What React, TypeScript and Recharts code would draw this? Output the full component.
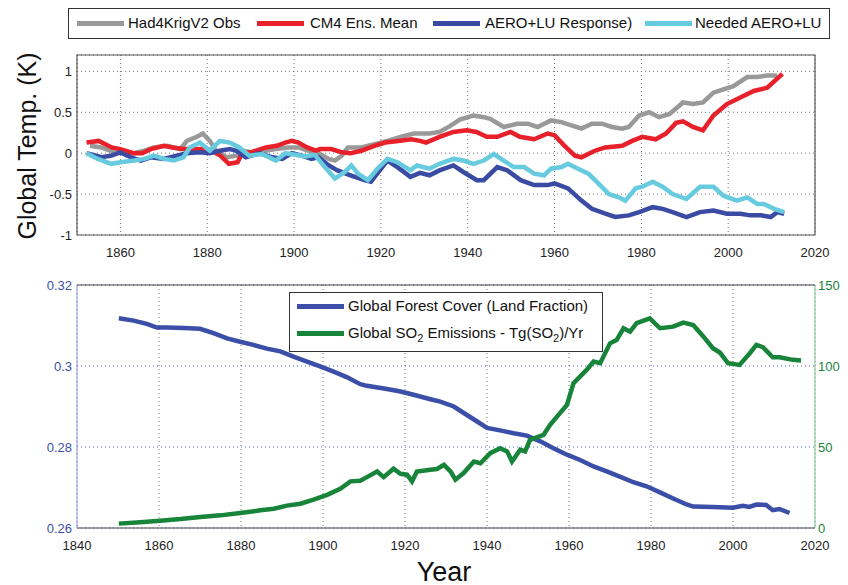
import React from 'react';
import {
    LineChart,
    Line,
    XAxis,
    YAxis,
    CartesianGrid,
    Legend,
    ReferenceArea,
    ReferenceLine
} from 'recharts';

// top panel: global temperature anomalies (K)
const tempTicksX = [1860, 1880, 1900, 1920, 1940, 1960, 1980, 2000, 2020];
const tempTicksY = [-1, -0.5, 0, 0.5, 1];

const hadObs: [number, number][] = [
    [1853, 0.09], [1855.6, 0.07], [1858.6, 0.01], [1861, 0], [1863, 0], [1865.5, 0.03], [1867.7, 0.07],
    [1870.8, 0.09], [1873.8, 0.05], [1875.3, 0.15], [1877.6, 0.2], [1879, 0.24], [1880.6, 0.15], [1882, 0.03],
    [1884.4, -0.05], [1886.7, -0.03], [1888, 0.03], [1890.5, 0.01], [1893.5, 0.03], [1895.8, 0.05],
    [1898.8, 0.07], [1901, 0.07], [1903.3, 0.03], [1905.6, 0], [1908, -0.07], [1909.4, -0.09], [1911, -0.03],
    [1912.4, 0.07], [1915.5, 0.07], [1918.5, 0.11], [1921.5, 0.15], [1924.5, 0.2], [1927.6, 0.24],
    [1931.2, 0.24], [1933.5, 0.26], [1935.9, 0.33], [1938.2, 0.41], [1941.3, 0.46], [1943.7, 0.44],
    [1945.2, 0.42], [1948.3, 0.32], [1951.4, 0.36], [1953.8, 0.36], [1956.1, 0.32], [1959.2, 0.4],
    [1961.6, 0.38], [1963.9, 0.34], [1966.2, 0.3], [1968.6, 0.36], [1970.9, 0.36], [1973.2, 0.32],
    [1975.6, 0.3], [1977.1, 0.32], [1979.5, 0.46], [1981.8, 0.5], [1984.1, 0.44], [1986.5, 0.48],
    [1989.6, 0.62], [1991.9, 0.6], [1994.2, 0.62], [1996.6, 0.74], [1998.9, 0.78], [2001.2, 0.82],
    [2004.4, 0.93], [2006.7, 0.93], [2009, 0.95], [2011.3, 0.95]
];

const cm4Mean: [number, number][] = [
    [1852.2, 0.13], [1855, 0.15], [1858, 0.07], [1860, 0.05], [1863, 0], [1865, 0], [1867, 0.05], [1870, 0.09],
    [1872, 0.07], [1874.5, 0.05], [1877, 0.05], [1880, 0.05], [1881, 0.03], [1883, -0.03], [1885, -0.13],
    [1887, -0.11], [1888, 0], [1890, 0.01], [1893.5, 0.07], [1896, 0.09], [1898, 0.13], [1899.5, 0.15],
    [1901, 0.13], [1903, 0.07], [1905, 0.03], [1906, 0.05], [1908.6, 0.05], [1911, 0.01], [1913, 0],
    [1915.5, 0.03], [1918.5, 0.09], [1921, 0.13], [1924, 0.15], [1927, 0.17], [1929, 0.15], [1930.4, 0.13],
    [1933.5, 0.2], [1936.7, 0.26], [1939.8, 0.28], [1942, 0.26], [1944.4, 0.2], [1946.8, 0.2], [1949.9, 0.26],
    [1952, 0.2], [1955.3, 0.17], [1958.4, 0.24], [1960, 0.22], [1962.3, 0.09], [1964.7, -0.03], [1966.2, -0.05],
    [1969.3, 0.03], [1971.7, 0.07], [1975.6, 0.09], [1977.9, 0.15], [1980.2, 0.2], [1983.3, 0.17],
    [1985.7, 0.24], [1988, 0.37], [1989.6, 0.39], [1991.9, 0.32], [1994.2, 0.28], [1996.6, 0.46],
    [1999.7, 0.6], [2002.8, 0.68], [2005.9, 0.76], [2009, 0.8], [2012.5, 0.97]
];

const aeroLu: [number, number][] = [
    [1852.2, 0], [1855.6, -0.05], [1857.9, -0.03], [1860, 0.01], [1862.4, -0.05], [1864.7, -0.09], [1867, -0.05],
    [1870, -0.07], [1873, -0.03], [1875.3, 0], [1878.3, 0.01], [1880.6, 0], [1882.9, 0.03], [1885.2, 0.05],
    [1886.7, 0.03], [1888.9, -0.05], [1892, 0], [1895, -0.05], [1897.3, -0.07], [1899.5, 0], [1901.8, -0.03],
    [1904, -0.07], [1905.6, -0.05], [1908, -0.15], [1910, -0.21], [1913, -0.27], [1916.2, -0.33],
    [1917.7, -0.35], [1921.5, -0.09], [1923.8, -0.17], [1926.8, -0.29], [1929, -0.24], [1931.2, -0.27],
    [1933.5, -0.21], [1936.7, -0.15], [1939, -0.23], [1942.1, -0.33], [1943.7, -0.33], [1946.8, -0.17],
    [1949.1, -0.21], [1952.2, -0.33], [1955.3, -0.39], [1958.4, -0.39], [1960, -0.37], [1963.1, -0.43],
    [1966.2, -0.58], [1968.6, -0.68], [1971.7, -0.74], [1974, -0.78], [1977.1, -0.76], [1979.5, -0.72],
    [1982.6, -0.66], [1984.9, -0.68], [1987.2, -0.72], [1990.4, -0.78], [1993.5, -0.72], [1996.6, -0.7],
    [1999.7, -0.74], [2002.8, -0.74], [2005.1, -0.76], [2007.5, -0.76], [2009.8, -0.78], [2011.3, -0.72],
    [2012.9, -0.74]
];

const neededAeroLu: [number, number][] = [
    [1852.2, 0], [1854.8, -0.07], [1857.9, -0.13], [1860, -0.11], [1863.2, -0.09], [1865.5, -0.07],
    [1867.7, -0.03], [1870, -0.07], [1872.3, -0.09], [1874.5, -0.05], [1876, 0.07], [1878.3, 0.13],
    [1880.6, 0.03], [1882.9, 0.15], [1885.2, 0.13], [1887.4, 0.07], [1889.7, -0.03], [1892.7, -0.01],
    [1895.8, -0.09], [1898, 0], [1900.3, -0.02], [1902.6, -0.04], [1904.8, -0.02], [1907.1, -0.17],
    [1909.4, -0.31], [1911.7, -0.23], [1913.2, -0.15], [1914.7, -0.25], [1917, -0.33], [1919.2, -0.19],
    [1921.5, -0.07], [1923.8, -0.11], [1926.8, -0.21], [1928.3, -0.15], [1931.2, -0.19], [1933.5, -0.13],
    [1936.7, -0.07], [1939, -0.09], [1941.3, -0.13], [1943.7, -0.09], [1946, -0.01], [1948.3, -0.09],
    [1950.6, -0.17], [1953, -0.17], [1955.3, -0.25], [1957.6, -0.27], [1959.2, -0.19], [1961.6, -0.17],
    [1963.1, -0.13], [1965.4, -0.19], [1967.8, -0.25], [1970.1, -0.37], [1972.5, -0.5], [1974.8, -0.54],
    [1976.3, -0.58], [1978.7, -0.43], [1980.2, -0.41], [1982.6, -0.35], [1984.9, -0.41], [1987.2, -0.5],
    [1990.4, -0.56], [1993.5, -0.41], [1996.6, -0.41], [1998.9, -0.52], [2002, -0.58], [2004.4, -0.54],
    [2006.7, -0.62], [2008.2, -0.62], [2010.6, -0.68], [2012.9, -0.72]
];

// bottom panel: forest cover (land fraction) and SO2 emissions (Tg/yr)
const yearTicks = [1840, 1860, 1880, 1900, 1920, 1940, 1960, 1980, 2000, 2020];
const forestTicks = [0.26, 0.28, 0.3, 0.32];
const so2Ticks = [0, 50, 100, 150];

const forestCover: [number, number][] = [
    [1850.2, 0.3118], [1853.8, 0.3112], [1857, 0.3104], [1859.5, 0.3095], [1862, 0.3095], [1866, 0.3094],
    [1870, 0.3092], [1873.3, 0.3081], [1876.6, 0.3068], [1879.8, 0.306], [1883, 0.3052], [1886.3, 0.3043],
    [1889.6, 0.3036], [1892.8, 0.3023], [1896.1, 0.3011], [1899.3, 0.2999], [1902.6, 0.2986],
    [1905.9, 0.2972], [1909.1, 0.2955], [1910.7, 0.2951], [1915.6, 0.2943], [1918.9, 0.2937],
    [1922.1, 0.2929], [1926.2, 0.2918], [1928.6, 0.2912], [1931.9, 0.29], [1935.1, 0.2879],
    [1937.6, 0.2863], [1940, 0.2847], [1943.2, 0.2841], [1946.5, 0.2834], [1949.7, 0.2828], [1953, 0.2814],
    [1956.2, 0.2797], [1959.5, 0.2781], [1962.7, 0.2768], [1966, 0.2752], [1969.2, 0.274], [1972.4, 0.2727],
    [1975.7, 0.2713], [1978.9, 0.2703], [1982.2, 0.2688], [1985.4, 0.2673], [1988.7, 0.2658],
    [1990.3, 0.2653], [1995.1, 0.2652], [2000, 0.265], [2002.4, 0.2655], [2004, 0.2652], [2005.7, 0.2658],
    [2008.1, 0.2657], [2009.7, 0.2644], [2011.3, 0.2647], [2013.8, 0.2637]
];

const so2Emissions: [number, number][] = [
    [1850.2, 2.7], [1855.4, 3.5], [1860.3, 4.5], [1865.2, 5.5], [1870.1, 6.8], [1875, 7.8], [1879.8, 9.2],
    [1884.7, 10.9], [1888, 11.9], [1891.2, 13.8], [1894.5, 15], [1897.7, 17.5], [1901, 20.5], [1904.2, 24.2],
    [1906.7, 28.8], [1909.1, 29.2], [1910.7, 31.4], [1913.2, 34.9], [1914.8, 31.4], [1917.2, 36.6],
    [1918.9, 33.5], [1920.5, 32.9], [1921.7, 28.8], [1922.9, 34.9], [1926.2, 36], [1927.8, 36.4],
    [1929.5, 39], [1931.1, 34.9], [1932.3, 29.8], [1934.3, 33.9], [1936.8, 41], [1938.4, 40], [1940.8, 46.2],
    [1943.2, 49.3], [1944.9, 47.3], [1946.1, 41], [1948.1, 48.3], [1949.3, 47.3], [1950.5, 54.4],
    [1953.8, 57.5], [1955.4, 63.7], [1957.8, 70.9], [1959.5, 76], [1961.1, 89.4], [1964.3, 97.6],
    [1966, 102.7], [1967.6, 101.7], [1970, 114], [1971.6, 116], [1973.3, 123.3], [1974.9, 121.2],
    [1976.5, 126.4], [1979.7, 129.4], [1982.2, 123.3], [1985.4, 124.3], [1987.9, 126.8], [1990.3, 125.3],
    [1992.8, 118.1], [1995.1, 111], [1996.8, 108.3], [1998.8, 101.7], [2001.6, 100.7], [2004.1, 107.9],
    [2005.7, 113], [2007.3, 111.6], [2009.7, 105.4], [2011.4, 105.4], [2014.6, 103.8], [2016.6, 103.4]
];

const toPoints = (pairs: [number, number][]) => pairs.map(([year, value]) => ({ year, value }));

const FONT = '"Liberation Sans", Arial, Helvetica, sans-serif';
const GREY = '#999999';
const RED = '#e8202a';
const NAVY = '#3a4ba4';
const CYAN = '#66cbde';
const GREEN = '#17843a';
const FOREST_BLUE = '#3b4fa8';

const topLegendItems = [
    { label: 'Had4KrigV2 Obs', color: GREY, left: 8, textLeft: 59 },
    { label: 'CM4 Ens. Mean', color: RED, left: 188, textLeft: 241 },
    { label: 'AERO+LU Response)', color: NAVY, left: 364, textLeft: 416 },
    { label: 'Needed AERO+LU', color: CYAN, left: 576, textLeft: 626 }
];

const TopLegend = () => (
    <div style={{ position: 'relative', width: 762, height: 31, border: '1px solid #333', background: '#fff', boxSizing: 'border-box', fontFamily: FONT, fontSize: 15 }}>
        {topLegendItems.map((it) => (
            <React.Fragment key={it.label}>
                <div style={{ position: 'absolute', left: it.left, top: 12, width: 47, height: 5, background: it.color }} />
                <div style={{ position: 'absolute', left: it.textLeft, top: 5, color: '#111', whiteSpace: 'nowrap' }}>{it.label}</div>
            </React.Fragment>
        ))}
    </div>
);

const BottomLegend = () => (
    <div style={{ position: 'relative', width: 314, height: 60, border: '1px solid #333', background: '#fff', boxSizing: 'border-box', fontFamily: FONT, fontSize: 15, color: '#111' }}>
        <div style={{ position: 'absolute', left: 7, top: 11, width: 47, height: 5, background: FOREST_BLUE }} />
        <div style={{ position: 'absolute', left: 58, top: 4, whiteSpace: 'nowrap' }}>Global Forest Cover (Land Fraction)</div>
        <div style={{ position: 'absolute', left: 7, top: 38, width: 47, height: 5, background: GREEN }} />
        <div style={{ position: 'absolute', left: 58, top: 31, whiteSpace: 'nowrap' }}>
            Global SO<sub style={{ fontSize: 11 }}>2</sub> Emissions - Tg(SO<sub style={{ fontSize: 11 }}>2</sub>)/Yr
        </div>
    </div>
);

const tickStyle = { fill: '#222', fontSize: 13, fontFamily: FONT };

export default function App() {
    return (
        <div style={{ position: 'absolute', left: 0, top: 0, width: 848, height: 585, background: '#fff', fontFamily: FONT }}>
            <div style={{ position: 'absolute', left: 0, top: 0 }}>
                <LineChart width={848} height={265} margin={{ top: 55, right: 33, bottom: 0, left: 0 }}>
                    <CartesianGrid stroke="#777" strokeDasharray="1 3" />
                    <ReferenceArea x1={1850} x2={2020} y1={-1} y2={1.2} fill="none" stroke="#555" strokeWidth={1.2} />
                    <XAxis
                        type="number"
                        dataKey="year"
                        domain={[1850, 2020]}
                        ticks={tempTicksX}
                        allowDataOverflow
                        height={30}
                        axisLine={false}
                        tickLine={false}
                        tickMargin={7}
                        tick={tickStyle}
                    />
                    <YAxis
                        type="number"
                        domain={[-1, 1.2]}
                        ticks={tempTicksY}
                        allowDataOverflow
                        width={77}
                        axisLine={false}
                        tickLine={false}
                        tickSize={3}
                        tickMargin={2}
                        tick={tickStyle}
                    />
                    <Legend
                        layout="horizontal"
                        verticalAlign="middle"
                        align="center"
                        wrapperStyle={{ left: 68, top: 8, width: 762, height: 31 }}
                        content={() => <TopLegend />}
                    />
                    <Line data={toPoints(hadObs)} dataKey="value" name="Had4KrigV2 Obs" stroke={GREY} strokeWidth={4.5} dot={false} isAnimationActive={false} />
                    <Line data={toPoints(cm4Mean)} dataKey="value" name="CM4 Ens. Mean" stroke={RED} strokeWidth={4.5} dot={false} isAnimationActive={false} />
                    <Line data={toPoints(aeroLu)} dataKey="value" name="AERO+LU Response)" stroke={NAVY} strokeWidth={4.5} dot={false} isAnimationActive={false} />
                    <Line data={toPoints(neededAeroLu)} dataKey="value" name="Needed AERO+LU" stroke={CYAN} strokeWidth={4.5} dot={false} isAnimationActive={false} />
                </LineChart>
            </div>
            <div style={{ position: 'absolute', left: 27, top: 146, transform: 'translate(-50%, -50%) rotate(-90deg)', fontSize: 25, color: '#111', whiteSpace: 'nowrap' }}>
                Global Temp. (K)
            </div>

            <div style={{ position: 'absolute', left: 0, top: 260 }}>
                <LineChart width={848} height={325} margin={{ top: 25, right: 0, bottom: 0, left: 0 }}>
                    <CartesianGrid stroke="#777" strokeDasharray="1 3" horizontal={false} />
                    <CartesianGrid stroke="#5561d6" strokeDasharray="1 3" vertical={false} yAxisId="forest" />
                    <XAxis
                        type="number"
                        dataKey="year"
                        domain={[1840, 2020]}
                        ticks={yearTicks}
                        allowDataOverflow
                        height={57}
                        stroke="#444"
                        tickLine={false}
                        tickMargin={7}
                        tick={tickStyle}
                    />
                    <YAxis
                        yAxisId="forest"
                        type="number"
                        domain={[0.26, 0.32]}
                        ticks={forestTicks}
                        allowDataOverflow
                        width={77}
                        stroke="#8c93d8"
                        tickLine={false}
                        tickSize={3}
                        tickMargin={2}
                        tick={{ ...tickStyle, fill: FOREST_BLUE }}
                        tickFormatter={(v: number) => String(Number(v.toFixed(2)))}
                    />
                    <YAxis
                        yAxisId="so2"
                        orientation="right"
                        type="number"
                        domain={[0, 150]}
                        ticks={so2Ticks}
                        allowDataOverflow
                        width={33}
                        stroke="#7cc08a"
                        tickLine={false}
                        tickSize={2}
                        tickMargin={1}
                        tick={{ ...tickStyle, fill: GREEN, textAnchor: 'start' }}
                    />
                    <ReferenceLine yAxisId="forest" y={0.32} stroke="#444" />
                    <Legend
                        layout="horizontal"
                        verticalAlign="middle"
                        align="center"
                        wrapperStyle={{ left: 289, top: 32, width: 314, height: 60 }}
                        content={() => <BottomLegend />}
                    />
                    <Line yAxisId="forest" data={toPoints(forestCover)} dataKey="value" name="Global Forest Cover (Land Fraction)" stroke={FOREST_BLUE} strokeWidth={4.5} dot={false} isAnimationActive={false} />
                    <Line yAxisId="so2" data={toPoints(so2Emissions)} dataKey="value" name="Global SO2 Emissions" stroke={GREEN} strokeWidth={4.5} dot={false} isAnimationActive={false} />
                </LineChart>
            </div>
            <div style={{ position: 'absolute', left: 444, top: 572, transform: 'translate(-50%, -50%)', fontSize: 27, color: '#111' }}>
                Year
            </div>
        </div>
    );
}
